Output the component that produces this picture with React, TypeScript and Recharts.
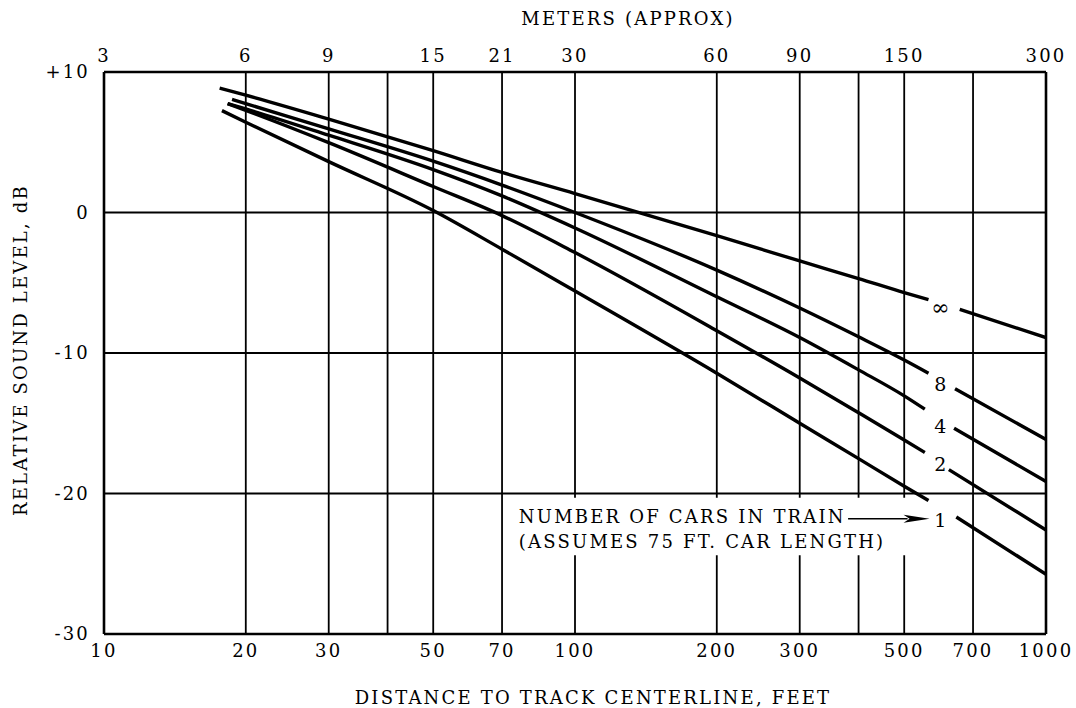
import React from 'react';
import {
  LineChart,
  Line,
  XAxis,
  YAxis,
  ReferenceLine,
  ReferenceArea,
  ReferenceDot,
} from 'recharts';

const FONT = '"DejaVu Serif", "Liberation Serif", serif';
const FS = 18;
const LS = 2.2;

// Axis ticks / labels
const feetTicks = [10, 20, 30, 50, 70, 100, 200, 300, 500, 700, 1000];
const meterTickFeet = [10, 20, 30, 50, 70, 100, 200, 300, 500, 1000];
const meterLabels = ['3', '6', '9', '15', '21', '30', '60', '90', '150', '300'];
const dbTicks = [10, 0, -10, -20, -30];
const minorDbTicks = [
  10, 9, 8, 7, 6, 5, 4, 3, 2, 1, 0, -1, -2, -3, -4, -5, -6, -7, -8, -9, -10,
  -11, -12, -13, -14, -15, -16, -17, -18, -19, -20, -21, -22, -23, -24, -25,
  -26, -27, -28, -29, -30,
];
const gridFeet = [20, 30, 40, 50, 70, 100, 200, 300, 400, 500, 700];
const gridDb = [0, -10, -20];

// Series: number of cars in train
const carLabels = ['1', '2', '4', '8', '∞'];
const labelFeet = 600;
const labelDb = [-21.9, -17.9, -15.2, -12.2, -6.75];

const feet1 = [17.8, 20, 30, 50, 70, 100, 200, 300, 400, 500, 563, 645, 1000];
const db1 = [7.25, 6.43, 3.62, 0.14, -2.61, -5.59, -11.44, -15.0, -17.52, -19.48, -20.5, -21.67, -25.75];

const feet2 = [18.3, 20, 30, 50, 70, 100, 200, 300, 400, 500, 553, 622, 1000];
const db2 = [7.75, 7.27, 4.97, 1.85, -0.22, -2.85, -8.41, -11.78, -14.25, -16.19, -17.08, -18.3, -22.6];

const feet4 = [18.3, 20, 30, 50, 70, 100, 200, 300, 400, 500, 553, 638, 1000];
const db4 = [7.75, 7.37, 5.5, 3.05, 1.18, -1.1, -6.0, -8.9, -11.2, -13.05, -14.0, -15.35, -19.15];

const feet8 = [18.7, 20, 30, 50, 70, 100, 200, 300, 400, 500, 563, 641, 1000];
const db8 = [8.05, 7.75, 5.95, 3.65, 1.95, 0, -4.1, -6.8, -8.85, -10.5, -11.44, -12.55, -16.15];

const feetInf = [17.6, 20, 30, 50, 70, 100, 200, 300, 400, 500, 563, 656, 1000];
const dbInf = [8.85, 8.35, 6.65, 4.4, 2.85, 1.35, -1.65, -3.45, -4.7, -5.7, -6.2, -6.9, -8.9];

// Annotation
const noteFeet = 76;
const noteLine1 = 'NUMBER OF CARS IN TRAIN';
const noteLine2 = '(ASSUMES 75 FT. CAR LENGTH)';
const noteDb1 = -21.65;
const noteDb2 = -23.45;
const arrowFeet = [380, 566];
const arrowDb = -21.8;
const boxFeet = [73.5, 560];
const boxDb = [-24.4, -20.3];

function buildSeries(feet: number[], db: number[], gap: number) {
  const pts: { x: number; y: number | null }[] = [];
  feet.forEach((f, i) => {
    if (i > 0 && feet[i - 1] < gap && f > gap) pts.push({ x: gap, y: null });
    pts.push({ x: f, y: db[i] });
  });
  return pts;
}

const series = [
  buildSeries(feet1, db1, labelFeet),
  buildSeries(feet2, db2, labelFeet),
  buildSeries(feet4, db4, labelFeet),
  buildSeries(feet8, db8, labelFeet),
  buildSeries(feetInf, dbInf, labelFeet),
];

const textStyle = {
  fill: '#000',
  fontFamily: FONT,
  fontSize: FS,
  letterSpacing: LS,
  style: { letterSpacing: `${LS}px` },
};

const titleContent =
  (text: string, dx: number, dy: number, angle = 0) =>
  (props: any) => {
    const vb = props.viewBox || { x: 0, y: 0, width: 0, height: 0 };
    const cx = vb.x + vb.width / 2 + dx;
    const cy = vb.y + vb.height / 2 + dy;
    return (
      <text
        x={cx}
        y={cy}
        textAnchor="middle"
        dominantBaseline="central"
        fill="#000"
        fontFamily={FONT}
        fontSize={FS}
        style={{ letterSpacing: `${LS}px` }}
        transform={angle ? `rotate(${angle} ${cx} ${cy})` : undefined}
      >
        {text}
      </text>
    );
  };

const ArrowShape = (props: any) => {
  const { x1, y1, x2, y2 } = props;
  if ([x1, y1, x2, y2].some((v) => typeof v !== 'number' || isNaN(v))) return <g />;
  const head = 26;
  const half = 4;
  return (
    <g>
      <line x1={x1} y1={y1} x2={x2 - head + 4} y2={y2} stroke="#000" strokeWidth={1.6} />
      <polygon
        points={`${x2},${y2} ${x2 - head},${y2 - half} ${x2 - head + 6},${y2} ${x2 - head},${y2 + half}`}
        fill="#000"
      />
    </g>
  );
};

export default function App() {
  const axisLine = { stroke: '#000', strokeWidth: 2.6 };
  return (
    <div style={{ position: 'absolute', left: 0, top: 0, background: '#fff' }}>
      <LineChart
        width={1076}
        height={708}
        margin={{ top: 0, right: 30, bottom: 0, left: 0 }}
        style={{ background: '#fff' }}
      >
        <XAxis
          xAxisId="bottom"
          orientation="bottom"
          type="number"
          scale="log"
          dataKey="x"
          domain={[10, 1000]}
          allowDataOverflow
          ticks={feetTicks}
          interval={0}
          height={74}
          tickSize={0}
          tickMargin={10}
          tickLine={false}
          axisLine={axisLine}
          tick={textStyle}
          label={{ content: titleContent('DISTANCE TO TRACK CENTERLINE, FEET', 18, 26) }}
        />
        <XAxis
          xAxisId="top"
          orientation="top"
          type="number"
          scale="log"
          dataKey="x"
          domain={[10, 1000]}
          allowDataOverflow
          ticks={meterTickFeet}
          tickFormatter={(v: number) => meterLabels[meterTickFeet.indexOf(v)]}
          interval={0}
          height={72}
          tickSize={0}
          tickMargin={10}
          tickLine={false}
          axisLine={axisLine}
          tick={textStyle}
          label={{ content: titleContent('METERS (APPROX)', 53, -18) }}
        />
        <YAxis
          yAxisId="left"
          orientation="left"
          type="number"
          domain={[-30, 10]}
          allowDataOverflow
          ticks={dbTicks}
          interval={0}
          width={104}
          tickSize={0}
          tickMargin={14}
          tickLine={false}
          axisLine={axisLine}
          tick={textStyle}
          tickFormatter={(v: number) => (v > 0 ? `+${v}` : `${v}`)}
          label={{ content: titleContent('RELATIVE SOUND LEVEL, dB', -32, -3, -90) }}
        />
        <YAxis
          yAxisId="leftMinor"
          orientation="left"
          mirror
          type="number"
          domain={[-30, 10]}
          allowDataOverflow
          ticks={minorDbTicks}
          interval={0}
          width={20}
          tickSize={21}
          tickLine={{ stroke: '#000', strokeWidth: 2.4 }}
          axisLine={false}
          tick={false}
        />
        <YAxis
          yAxisId="rightMinor"
          orientation="right"
          mirror
          type="number"
          domain={[-30, 10]}
          allowDataOverflow
          ticks={minorDbTicks}
          interval={0}
          width={20}
          tickSize={21}
          tickLine={{ stroke: '#000', strokeWidth: 2.4 }}
          axisLine={axisLine}
          tick={false}
        />

        {gridFeet.map((f) => (
          <ReferenceLine
            key={`gx${f}`}
            x={f}
            xAxisId="bottom"
            yAxisId="left"
            stroke="#000"
            strokeWidth={1.8}
            zIndex={50}
          />
        ))}
        {gridDb.map((d) => (
          <ReferenceLine
            key={`gy${d}`}
            y={d}
            xAxisId="bottom"
            yAxisId="left"
            stroke="#000"
            strokeWidth={1.8}
            zIndex={50}
          />
        ))}

        <ReferenceArea
          xAxisId="bottom"
          yAxisId="left"
          x1={boxFeet[0]}
          x2={boxFeet[1]}
          y1={boxDb[0]}
          y2={boxDb[1]}
          fill="#fff"
          fillOpacity={1}
          stroke="none"
          zIndex={60}
        />

        {series.map((data, i) => (
          <Line
            key={carLabels[i]}
            data={data}
            dataKey="y"
            xAxisId="bottom"
            yAxisId="left"
            type="monotone"
            stroke="#000"
            strokeWidth={3.4}
            dot={false}
            activeDot={false}
            connectNulls={false}
            isAnimationActive={false}
          />
        ))}

        {carLabels.map((lab, i) => (
          <ReferenceDot
            key={`lab${lab}`}
            xAxisId="bottom"
            yAxisId="left"
            x={labelFeet}
            y={labelDb[i]}
            r={0}
            stroke="none"
            fill="none"
            zIndex={700}
            label={{ value: lab, position: 'center', ...textStyle, fontSize: lab === '∞' ? 22 : FS + 1 }}
          />
        ))}

        <ReferenceDot
          xAxisId="bottom"
          yAxisId="left"
          x={noteFeet}
          y={noteDb1}
          r={0}
          stroke="none"
          fill="none"
          zIndex={700}
          label={{ value: noteLine1, position: 'right', offset: 0, ...textStyle }}
        />
        <ReferenceDot
          xAxisId="bottom"
          yAxisId="left"
          x={noteFeet}
          y={noteDb2}
          r={0}
          stroke="none"
          fill="none"
          zIndex={700}
          label={{ value: noteLine2, position: 'right', offset: 0, ...textStyle }}
        />
        <ReferenceLine
          xAxisId="bottom"
          yAxisId="left"
          segment={[
            { x: arrowFeet[0], y: arrowDb },
            { x: arrowFeet[1], y: arrowDb },
          ]}
          shape={ArrowShape}
          zIndex={700}
        />
      </LineChart>
    </div>
  );
}
